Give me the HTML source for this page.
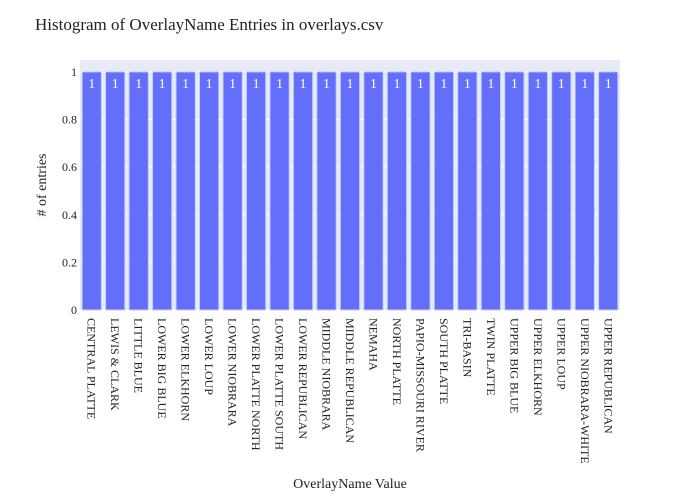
<!DOCTYPE html>
<html><head><meta charset="utf-8"><style>
body{margin:0;background:#fff}
svg{font-family:"Liberation Serif",serif;display:block}
</style></head><body>
<svg id="chart" width="700" height="500">
<rect x="0" y="0" width="700" height="500" fill="#fff"/>
<text x="35" y="30" font-size="17" fill="#222">Histogram of OverlayName Entries in overlays.csv</text>
<rect x="80" y="60" width="540" height="250" fill="#e5ecf6"/>
<g id="grid"></g><g id="bars"></g><g id="yticks"></g><g id="xticks"></g>
<text x="350" y="488" font-size="14" text-anchor="middle" fill="#222">OverlayName Value</text>
<text transform="translate(46,185) rotate(-90)" font-size="14" text-anchor="middle" fill="#222"># of entries</text>
</svg>
<script>
const categories=["CENTRAL PLATTE","LEWIS & CLARK","LITTLE BLUE","LOWER BIG BLUE","LOWER ELKHORN","LOWER LOUP","LOWER NIOBRARA","LOWER PLATTE NORTH","LOWER PLATTE SOUTH","LOWER REPUBLICAN","MIDDLE NIOBRARA","MIDDLE REPUBLICAN","NEMAHA","NORTH PLATTE","PAPIO-MISSOURI RIVER","SOUTH PLATTE","TRI-BASIN","TWIN PLATTE","UPPER BIG BLUE","UPPER ELKHORN","UPPER LOUP","UPPER NIOBRARA-WHITE","UPPER REPUBLICAN"];
const counts=[1,1,1,1,1,1,1,1,1,1,1,1,1,1,1,1,1,1,1,1,1,1,1];
const yTicks=[0,0.2,0.4,0.6,0.8,1];
const yTickLabels=["0","0.2","0.4","0.6","0.8","1"];
const NS="http://www.w3.org/2000/svg";
const X0=80,X1=620,Y0=310,Y1=60;
const yMax=Math.max(...counts)*1.05;
const y=v=>Y0-(v/yMax)*(Y0-Y1);
const slot=(X1-X0)/categories.length;
const x=i=>X0+i*slot;
function mk(tag,attrs,parent){const e=document.createElementNS(NS,tag);for(const k in attrs)e.setAttribute(k,attrs[k]);document.getElementById(parent).appendChild(e);return e;}
yTicks.forEach((t,i)=>{
  const g=mk('line',{x1:X0,x2:X1,y1:y(t),y2:y(t),stroke:'#fff','stroke-width':1},'grid');
  
  
  const l=mk('text',{x:X0-3,y:y(t)+4,'text-anchor':'end','font-size':12,fill:'#222'},'yticks');
  l.textContent=yTickLabels[i];
  
  
});
categories.forEach((c,i)=>{
  const w=slot*0.82, bx=x(i)+(slot-w)/2;
  const b=mk('rect',{x:bx,y:y(counts[i]),width:w,height:Y0-y(counts[i]),fill:'#636efa',stroke:'#c8ccfb','stroke-width':1},'bars');
  
  
  const v=mk('text',{x:bx+w/2,y:y(counts[i])+16,'text-anchor':'middle','font-size':14,fill:'#fff'},'bars');
  v.textContent=String(counts[i]);
  
  
  const cx=x(i)+slot/2;
  const t=mk('text',{transform:`translate(${cx-4},318) rotate(90)`,'font-size':12,fill:'#222'},'xticks');
  t.textContent=c;
  
  
});
</script>
</body></html>
